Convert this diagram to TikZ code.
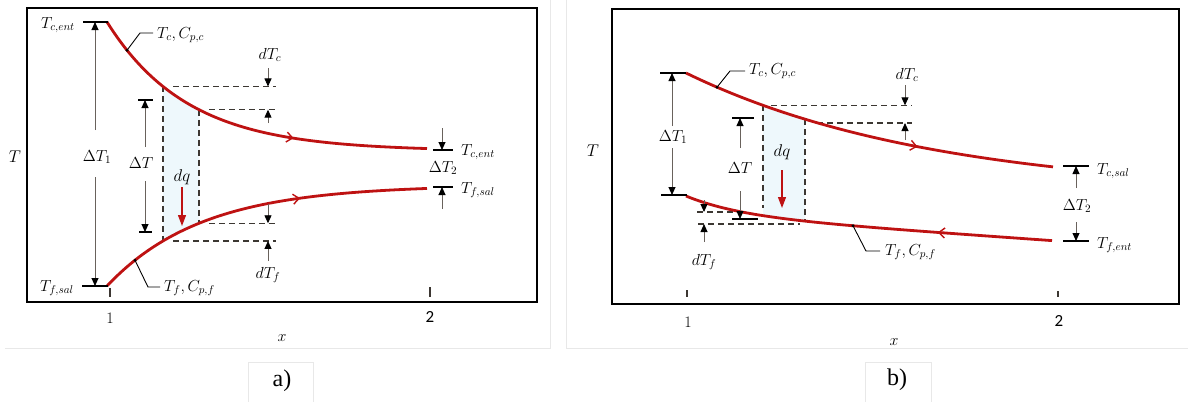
\documentclass[tikz,border=0pt]{standalone}
\usepackage{fix-cm}
\usepackage{fontspec}
\newfontfamily\serifb{Liberation Serif}
\newfontfamily\calib{Carlito}
\usetikzlibrary{arrows.meta,decorations.markings}
\definecolor{hred}{RGB}{190,18,18}
\definecolor{dgray}{RGB}{60,55,50}
\definecolor{lgray}{RGB}{105,98,92}
\definecolor{tint}{RGB}{238,248,252}
\begin{document}
\begin{tikzpicture}[x=1pt,y=-1pt,
 declare function={
   ha(\x)=151-129*exp(-0.01238*(\x-107));
   ca(\x)=185+101*exp(-0.01054*(\x-107));
   hb(\x)=73+122*(1-exp(-0.004*(\x-686)));
   cb(\x)=196+0.07*(\x-686)+19*(1-exp(-0.018*(\x-686)));
 },
 curve/.style={hred,line width=2.8pt},
 barline/.style={black,line width=1.9pt},
 dimarrow/.style={lgray,line width=0.9pt,-{Triangle[length=8pt,width=7pt,black]}},
 dashln/.style={dgray,line width=1.1pt,dash pattern=on 6pt off 4pt},
 leader/.style={black,line width=0.9pt},
 lbl/.style={inner sep=0pt,font=\fontsize{16}{18}\selectfont},
 frame/.style={black,line width=2.4pt},
 faint/.style={black!9,line width=0.8pt},
 tick/.style={dgray,line width=1.6pt},
 dqarrow/.style={hred,line width=1.2pt,-{Triangle[length=11pt,width=8pt]}},
 flowarrow/.style={postaction={decorate},decoration={markings,mark=at position #1 with {\arrow{Straight Barb[length=6pt,width=10pt,line width=1.4pt]}}}},
 flowback/.style={postaction={decorate},decoration={markings,mark=at position #1 with {\arrowreversed{Straight Barb[length=6pt,width=10pt,line width=1.4pt]}}}},
]
\useasboundingbox (0,0) rectangle (1188,402);

% faint outer boxes
\draw[faint] (5,348) -- (550,348) -- (550,0);
\draw[faint] (248,402) -- (248,362) -- (313,362) -- (313,402);
\draw[faint] (566,0) -- (566,348) -- (1188,348);
\draw[faint] (865,402) -- (865,362) -- (931,362) -- (931,402);

%================ panel a =================
\draw[frame] (27,8) rectangle (537,302);
\fill[tint] plot[domain=163:199,samples=20] (\x,{ha(\x)}) -- plot[domain=199:163,samples=20] (\x,{ca(\x)}) -- cycle;

\coordinate (a1h) at (163,{ha(163)});
\coordinate (a2h) at (199,{ha(199)});
\coordinate (a1c) at (163,{ca(163)});
\coordinate (a2c) at (199,{ca(199)});
\draw[dashln] (a1h) -- (a1c);
\draw[dashln] (a2h) -- (a2c);
\draw[dashln] (173,{ha(163)}) -- (276,{ha(163)});
\draw[dashln] (209,{ha(199)}) -- (276,{ha(199)});
\draw[dashln] (209,{ca(199)}) -- (276,{ca(199)});
\draw[dashln] (173,{ca(163)}) -- (276,{ca(163)});

\draw[curve,flowarrow=0.63] plot[domain=107:427,samples=90] (\x,{ha(\x)});
\draw[curve,flowarrow=0.63] plot[domain=107:427,samples=90] (\x,{ca(\x)});

% bars
\draw[barline] (83,22) -- (108,22);
\draw[barline] (82,286) -- (108,286);
\draw[barline] (138,100) -- (153,100);
\draw[barline] (139,232) -- (152,232);
\draw[barline] (433,150) -- (453,150);
\draw[barline] (433,187) -- (453,187);

% labels
\node[lbl] (tcenta) at (58,25) {$T_{c,ent}$};
\node[lbl] (tfsala) at (57,288) {$T_{f,sal}$};
\node[lbl,anchor=west] (tcpca) at (157,35) {$T_c, C_{p,c}$};
\node[lbl,anchor=west] (tfcpfa) at (164,288) {$T_f, C_{p,f}$};
\node[lbl] (dT1a) at (97,157) {$\Delta T_1$};
\node[lbl] (dTa) at (141,163) {$\Delta T$};
\node[lbl,font=\fontsize{17}{19}\selectfont] (dqa) at (182,177) {$dq$};
\node[lbl] (dtca) at (270,55) {$dT_c$};
\node[lbl] (dtfa) at (268,275) {$dT_f$};
\node[lbl] (dt2a) at (443,168) {$\Delta T_2$};
\node[lbl,anchor=west] (tcent2a) at (461,152) {$T_{c,ent}$};
\node[lbl,anchor=west] (tfsal2a) at (461,190) {$T_{f,sal}$};
\node[lbl,font=\fontsize{17}{19}\selectfont] (Ta) at (15,157) {$T$};
\node[lbl] (xa) at (282,338) {$x$};
\node[lbl] (onea) at (110,318) {1};
\node[lbl,font=\fontsize{17}{19}\selectfont] (twoa) at (430,317) {\calib 2};
\node[lbl,font=\fontsize{24}{26}\selectfont] (laba) at (282,381) {\serifb a)};

% dimension arrows
\draw[dimarrow] (95,130) -- (95,22);
\draw[dimarrow] (95,177) -- (95,286);
\draw[dimarrow] (145,147) -- (145,100);
\draw[dimarrow] (145,181) -- (145,232);
\draw[dimarrow] (442,128) -- (442,150);
\draw[dimarrow] (442,209) -- (442,187);
\draw[dimarrow] (268,68) -- (268,{ha(163)});
\draw[dimarrow] (268,123) -- (268,{ha(199)});
\draw[dimarrow] (268,{ca(199)-19}) -- (268,{ca(199)});
\draw[dimarrow] (268,{ca(163)+20}) -- (268,{ca(163)});
\coordinate (dqa1) at (182,187);
\coordinate (dqa2) at (182,226);
\draw[dqarrow] (dqa1) -- (dqa2);

% leaders
\coordinate (lha) at (127,{ha(127)});
\coordinate (lca) at (135,{ca(135)});
\draw[leader] (lha) -- (140,33) -- (153,33);
\fill (lha) circle (1.6pt);
\draw[leader] (lca) -- (148,287) -- (160,287);
\fill (lca) circle (1.6pt);

% ticks
\draw[tick] (110,288) -- (110,297);
\draw[tick] (430,287) -- (430,297);

%================ panel b =================
\draw[frame] (612,9) rectangle (1179,304);
\fill[tint] plot[domain=763:805,samples=20] (\x,{hb(\x)}) -- plot[domain=805:763,samples=20] (\x,{cb(\x)}) -- cycle;

\coordinate (b1h) at (763,{hb(763)});
\coordinate (b2h) at (805,{hb(805)});
\coordinate (b1c) at (763,208);
\coordinate (b2c) at (805,{cb(805)});
\draw[dashln] (b1h) -- (b1c);
\draw[dashln] (b2h) -- (b2c);
\draw[dashln] (771,{hb(763)}) -- (912,{hb(763)});
\draw[dashln] (817,123) -- (912,123);
\draw[dashln] (697,212) -- (735,212);
\draw[dashln] (698,224) -- (800,224);

\draw[curve,flowarrow=0.64] plot[domain=686:1053,samples=90] (\x,{hb(\x)});
\draw[curve,flowback=0.69] plot[domain=686:1052,samples=90] (\x,{cb(\x)});

% bars
\draw[barline] (660,73) -- (686,73);
\draw[barline] (661,195) -- (687,195);
\draw[barline] (732,118) -- (754,118);
\draw[barline] (732,219) -- (758,219);
\draw[barline] (1063,166) -- (1089,166);
\draw[barline] (1063,241) -- (1089,241);

% labels
\node[lbl,font=\fontsize{17}{19}\selectfont] (Tb) at (593,151) {$T$};
\node[lbl] (dT1b) at (673,137) {$\Delta T_1$};
\node[lbl] (dTb) at (740,168) {$\Delta T$};
\node[lbl,font=\fontsize{17}{19}\selectfont] (dqb) at (782,152) {$dq$};
\node[lbl,anchor=west] (tcpcb) at (749,71) {$T_c, C_{p,c}$};
\node[lbl,anchor=west] (tfcpfb) at (885,252) {$T_f, C_{p,f}$};
\node[lbl] (dtcb) at (907,75) {$dT_c$};
\node[lbl] (dtfb) at (704,262) {$dT_f$};
\node[lbl] (dt2b) at (1077,206) {$\Delta T_2$};
\node[lbl,anchor=west] (tcsalb) at (1097,171) {$T_{c,sal}$};
\node[lbl,anchor=west] (tfentb) at (1097,245) {$T_{f,ent}$};
\node[lbl] (xb) at (894,342) {$x$};
\node[lbl] (oneb) at (688,322) {1};
\node[lbl,font=\fontsize{17}{19}\selectfont] (twob) at (1059,321) {\calib 2};
\node[lbl,font=\fontsize{24}{26}\selectfont] (labb) at (897,380) {\serifb b)};

% dimension arrows
\draw[dimarrow] (672,126) -- (672,73);
\draw[dimarrow] (672,148) -- (672,195);
\draw[dimarrow] (740,148) -- (740,118);
\draw[dimarrow] (740,191) -- (740,219);
\draw[dimarrow] (1076,188) -- (1076,166);
\draw[dimarrow] (1076,222) -- (1076,241);
\draw[dimarrow] (905,85) -- (905,{hb(763)});
\draw[dimarrow] (905,140) -- (905,123);
\draw[dimarrow] (704,200) -- (704,212);
\draw[dimarrow] (704,242) -- (704,224);
\coordinate (dqb1) at (782,170);
\coordinate (dqb2) at (782,208);
\draw[dqarrow] (dqb1) -- (dqb2);

% leaders
\coordinate (lhb) at (717,{hb(717)});
\coordinate (lcb) at (853,{cb(853)});
\draw[leader] (lhb) -- (730,71) -- (745,71);
\fill (lhb) circle (1.6pt);
\draw[leader] (lcb) -- (866,251) -- (880,251);
\fill (lcb) circle (1.6pt);

% ticks
\draw[tick] (687,290) -- (687,297);
\draw[tick] (1058,291) -- (1058,297);
\end{tikzpicture}
\end{document}
